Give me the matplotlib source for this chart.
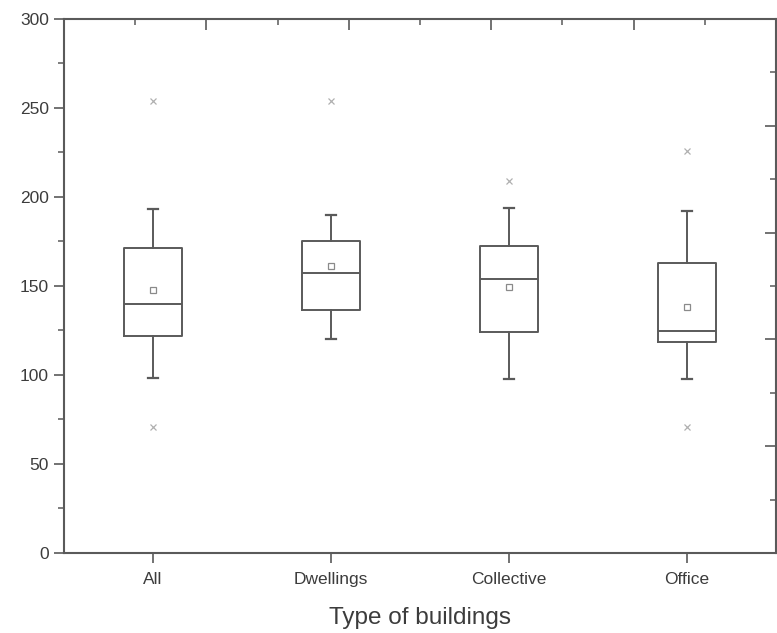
#!/usr/bin/env python3
"""Box plot by building type (recreation)."""

import matplotlib
matplotlib.use("Agg")
import matplotlib.pyplot as plt
from matplotlib.ticker import MultipleLocator

plt.rcParams["font.family"] = ["Liberation Sans", "DejaVu Sans"]

# values
categories = ["All", "Dwellings", "Collective", "Office"]
q1 = [122, 136.5, 124, 118.7]
median = [140, 157.5, 154, 124.7]
q3 = [171.5, 175, 172.5, 163]
whisker_lo = [98.5, 120, 98, 98]
whisker_hi = [193, 190, 194, 192]
means = [147.5, 161, 149.6, 138]
fliers = [[254, 71], [254], [209], [226, 71]]

LINE = "#5a5a5a"
TEXT = "#3c3c3c"

fig = plt.figure(figsize=(7.77, 6.33), dpi=100)
ax = fig.add_axes([0.0824, 0.1264, 0.9163, 0.8436])

stats = []
for i, name in enumerate(categories):
    stats.append(dict(label=name, q1=q1[i], med=median[i], q3=q3[i],
                      whislo=whisker_lo[i], whishi=whisker_hi[i],
                      mean=means[i], fliers=fliers[i]))

ax.bxp(
    stats, positions=range(1, len(categories) + 1), widths=0.33,
    showmeans=True, showfliers=True, capwidths=0.06,
    boxprops=dict(color=LINE, linewidth=1.4),
    medianprops=dict(color=LINE, linewidth=1.4),
    whiskerprops=dict(color=LINE, linewidth=1.4),
    capprops=dict(color=LINE, linewidth=1.6),
    meanprops=dict(marker="s", markersize=5, markerfacecolor="none",
                   markeredgecolor="#8a8a8a", markeredgewidth=0.9),
    flierprops=dict(marker="x", markersize=4.5, markeredgecolor="#b0b0b0",
                    markeredgewidth=0.9),
)

ax.set_xlim(0.5, 4.5)
ax.set_ylim(0, 300)
ax.yaxis.set_major_locator(MultipleLocator(50))
ax.yaxis.set_minor_locator(MultipleLocator(25))
ax.tick_params(axis="both", which="major", direction="out", length=7,
               width=1.2, color=LINE, labelsize=12.5, labelcolor=TEXT,
               top=False, right=False)
ax.tick_params(axis="y", which="minor", direction="out", length=4,
               width=1.1, color=LINE, right=False)
ax.tick_params(axis="y", pad=4)
ax.tick_params(axis="x", pad=7)
ax.set_xticks(range(1, len(categories) + 1))
ax.set_xticklabels(categories)
ax.set_xlabel("Type of buildings", fontsize=17.5, color=TEXT, labelpad=14)

for sp in ax.spines.values():
    sp.set_color(LINE)
    sp.set_linewidth(1.5)

# mirrored frame ticks, inward, no labels
top = ax.twiny()
top.set_xlim(0, 1)
top.xaxis.set_major_locator(MultipleLocator(0.2))
top.xaxis.set_minor_locator(MultipleLocator(0.1))
top.tick_params(axis="x", which="major", direction="in", length=8, width=1.2,
                color=LINE, labeltop=False)
top.tick_params(axis="x", which="minor", direction="in", length=4, width=1.1,
                color=LINE)

right = ax.twinx()
right.set_ylim(0, 1)
right.yaxis.set_major_locator(MultipleLocator(0.2))
right.yaxis.set_minor_locator(MultipleLocator(0.1))
right.tick_params(axis="y", which="major", direction="in", length=8, width=1.2,
                  color=LINE, labelright=False)
right.tick_params(axis="y", which="minor", direction="in", length=4, width=1.1,
                  color=LINE)
for t in (top, right):
    for sp in t.spines.values():
        sp.set_visible(False)

fig.savefig("out.png", dpi=100)
